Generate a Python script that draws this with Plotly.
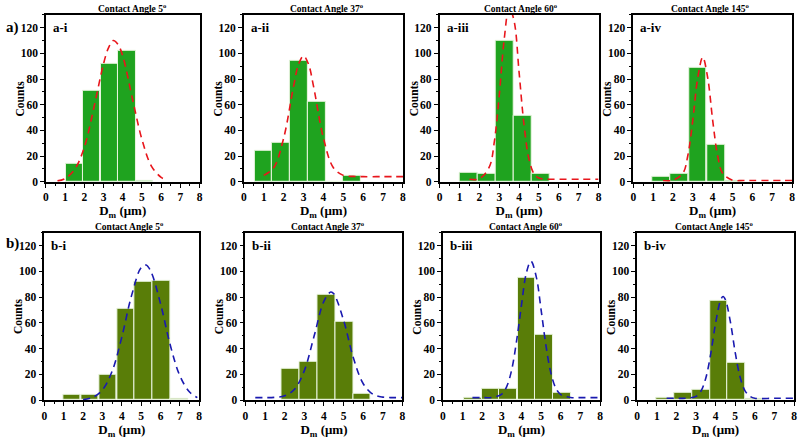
import plotly.graph_objects as go

# ---------------- data ----------------
titles = ["Contact Angle 5<sup>o</sup>", "Contact Angle 37<sup>o</sup>",
          "Contact Angle 60<sup>o</sup>", "Contact Angle 145<sup>o</sup>"]
labels_a = ["a-i", "a-ii", "a-iii", "a-iv"]
labels_b = ["b-i", "b-ii", "b-iii", "b-iv"]
x_ticks = [0, 1, 2, 3, 4, 5, 6, 7, 8]
y_ticks = [0, 20, 40, 60, 80, 100, 120]

# row a (red fits)
a1_bins = [1.47, 2.38, 3.30, 4.22, 5.13]
a1_counts = [14, 71, 92, 102, 1]
a1_fit_x = [0.6, 1.0, 1.5, 2.0, 2.5, 3.0, 3.25, 3.5, 3.75, 4.0, 4.5, 5.0, 5.5, 6.0, 6.2]
a1_fit_y = [0.7, 2.6, 9.7, 27, 58, 92, 104, 110, 107, 98, 65, 33, 12, 3.4, 1.9]

a2_bins = [0.98, 1.86, 2.75, 3.66, 4.55, 5.44]
a2_counts = [24, 30, 94, 62, 0, 5]
a2_fit_x = [1.0, 1.5, 2.0, 2.5, 2.75, 3.0, 3.25, 3.5, 4.0, 4.5, 5.0, 5.5, 6.0, 7.0, 8.0]
a2_fit_y = [5, 11, 34, 74.5, 91.5, 98, 91.5, 74.5, 34, 11, 5, 4.2, 4, 4, 4]

a3_bins = [1.48, 2.38, 3.28, 4.18, 5.08]
a3_counts = [7, 6, 110, 51, 6]
a3_fit_x = [1.5, 2.0, 2.5, 2.75, 3.0, 3.25, 3.5, 3.75, 4.0, 4.25, 4.5, 4.75, 5.0, 5.5, 6.0, 7.0, 8.0]
a3_fit_y = [2, 2.4, 11.6, 31, 67.5, 111, 136, 125, 85, 44, 17.5, 6.3, 2.9, 2, 2, 2, 2]

a4_bins = [1.42, 2.33, 3.25, 4.17, 5.08]
a4_counts = [4, 6, 89, 29, 1]
a4_fit_x = [1.5, 2.0, 2.5, 2.75, 3.0, 3.25, 3.5, 3.75, 4.0, 4.25, 4.5, 5.0, 5.5, 6.0, 7.0, 8.0]
a4_fit_y = [1, 1.2, 6.7, 20.5, 48, 81, 97, 81, 48, 20.5, 6.7, 1.2, 1, 1, 1, 1]

# row b (blue fits)
b1_bins = [1.42, 2.34, 3.28, 4.20, 5.12, 6.05, 6.97]
b1_counts = [4, 4, 20, 71, 92, 93, 1]
b1_fit_x = [2.0, 2.5, 3.0, 3.5, 4.0, 4.5, 5.0, 5.25, 5.5, 6.0, 6.5, 7.0, 7.5, 7.9]
b1_fit_y = [0.45, 2.2, 8, 22.5, 49, 81, 103, 105, 100, 75, 43, 19, 6.3, 2]

b2_bins = [2.28, 3.20, 4.12, 5.03, 5.93]
b2_counts = [24, 30, 82, 61, 5]
b2_fit_x = [0.5, 1.0, 1.5, 2.0, 2.5, 3.0, 3.5, 4.0, 4.35, 4.5, 5.0, 5.5, 6.0, 6.5, 7.0, 7.5, 8.0]
b2_fit_y = [2, 2, 2.2, 3.4, 8.5, 23, 50, 77, 84, 82.6, 62, 32.7, 12.8, 4.6, 2.4, 2, 2]

b3_bins = [1.52, 2.43, 3.32, 4.25, 5.16, 6.07]
b3_counts = [2, 9, 9, 95, 51, 6]
b3_fit_x = [1.5, 2.0, 2.5, 3.0, 3.25, 3.5, 3.75, 4.0, 4.25, 4.48, 4.75, 5.0, 5.25, 5.5, 5.75, 6.0, 6.5, 7.0, 8.0]
b3_fit_y = [2, 2, 2.2, 4.8, 10.7, 23.6, 46, 74, 99, 108, 96, 70, 42, 21, 9.3, 4.3, 2.1, 2, 2]

b4_bins = [1.44, 2.34, 3.25, 4.15, 5.06, 5.96]
b4_counts = [2, 6, 8, 77, 29, 1]
b4_fit_x = [1.5, 2.0, 2.5, 3.0, 3.25, 3.5, 3.75, 4.0, 4.25, 4.38, 4.5, 4.75, 5.0, 5.25, 5.5, 5.75, 6.0, 7.0, 8.0]
b4_fit_y = [1.5, 1.5, 1.5, 3, 7, 17.3, 36, 60, 77.5, 80.5, 78, 61, 37, 17.8, 7.3, 3.1, 1.5, 1.5, 1.5]

# ---------------- styling / layout ----------------
W, H = 803, 442
FONT = "Liberation Serif, Times New Roman, DejaVu Serif, serif"
GREEN = "#1fa31f"
OLIVE = "#597d08"
RED = "#e8161c"
BLUE = "#1a1ab0"

panels = [
    (a1_bins, a1_counts, a1_fit_x, a1_fit_y, GREEN, RED),
    (a2_bins, a2_counts, a2_fit_x, a2_fit_y, GREEN, RED),
    (a3_bins, a3_counts, a3_fit_x, a3_fit_y, GREEN, RED),
    (a4_bins, a4_counts, a4_fit_x, a4_fit_y, GREEN, RED),
    (b1_bins, b1_counts, b1_fit_x, b1_fit_y, OLIVE, BLUE),
    (b2_bins, b2_counts, b2_fit_x, b2_fit_y, OLIVE, BLUE),
    (b3_bins, b3_counts, b3_fit_x, b3_fit_y, OLIVE, BLUE),
    (b4_bins, b4_counts, b4_fit_x, b4_fit_y, OLIVE, BLUE),
]

xdom_px = [(43.3, 198), (242.7, 403), (440, 600), (635, 795),
           (41.7, 197.7), (244.3, 402.5), (443.3, 601.5), (639, 797)]
ydom_px = [(15, 184.3)] * 4 + [(236, 405.7)] * 4
title_x_px = [130, 326, 522, 712, 127, 327, 527, 716.5]
title_y_px = [8] * 4 + [229] * 4

fig = go.Figure()
layout_axes = {}
annotations = []

def tfont(size):
    return dict(family=FONT, size=size, color="black", weight="bold")

for i, (bx, by, fx, fy, bcol, lcol) in enumerate(panels):
    n = i + 1
    xa = "x" if n == 1 else f"x{n}"
    ya = "y" if n == 1 else f"y{n}"
    fig.add_trace(go.Bar(x=bx, y=by, width=0.9, marker=dict(color=bcol, line=dict(color="#eaf5e0", width=1)),
                         xaxis=xa, yaxis=ya, showlegend=False))
    fig.add_trace(go.Scatter(x=fx, y=fy, mode="lines",
                             line=dict(color=lcol, width=1.6, dash="7px,5px", shape="spline", smoothing=1.0),
                             xaxis=xa, yaxis=ya, showlegend=False))
    x0, x1 = xdom_px[i]
    y0, y1 = ydom_px[i]
    axis_common = dict(showline=True, linecolor="black", linewidth=1.6, mirror=True,
                       ticks="outside", ticklen=4, tickwidth=1.2, tickcolor="black",
                       showgrid=False, zeroline=False, tickfont=tfont(11.5),
                       ticklabeloverflow="allow")
    layout_axes["xaxis" if n == 1 else f"xaxis{n}"] = dict(
        domain=[x0 / W, x1 / W], anchor=ya, range=[0, 8], tickvals=x_ticks,
        minor=dict(dtick=0.5, ticklen=2, ticks="outside", tickcolor="black"),
        title=dict(text="D<sub>m</sub> (μm)", font=tfont(13), standoff=0),
        **axis_common)
    layout_axes["yaxis" if n == 1 else f"yaxis{n}"] = dict(
        domain=[1 - y1 / H, 1 - y0 / H], anchor=xa, range=[0, 130], tickvals=y_ticks,
        minor=dict(dtick=10, ticklen=2, ticks="outside", tickcolor="black"),
        **axis_common)
    # y-axis title placed precisely
    annotations.append(dict(text="Counts", x=(x0 - 26) / W, y=1 - ((y0 + y1) / 2) / H,
                            xref="paper", yref="paper", showarrow=False, textangle=-90,
                            xanchor="center", yanchor="middle", font=tfont(11.5)))
    annotations.append(dict(text=titles[i % 4], x=title_x_px[i] / W, y=1 - title_y_px[i] / H,
                            xref="paper", yref="paper", showarrow=False, xanchor="center", yanchor="middle",
                            font=tfont(9.5)))
    lab = (labels_a + labels_b)[i]
    annotations.append(dict(text=lab, x=(x0 + 5) / W, y=1 - (y0 + 12.5) / H,
                            xref="paper", yref="paper", showarrow=False, xanchor="left", yanchor="middle",
                            font=tfont(13)))

annotations.append(dict(text="a)", x=1 / W, y=1 - 28 / H, xref="paper", yref="paper", showarrow=False,
                        xanchor="left", yanchor="middle", font=tfont(15)))
annotations.append(dict(text="b)", x=1 / W, y=1 - 247 / H, xref="paper", yref="paper", showarrow=False,
                        xanchor="left", yanchor="middle", font=tfont(15)))

fig.update_layout(width=W, height=H, margin=dict(l=0, r=0, t=0, b=0),
                  paper_bgcolor="white", plot_bgcolor="white", bargap=0,
                  font=dict(family=FONT), hovermode=False,
                  annotations=annotations, **layout_axes)

fig.write_html("out.html", config={"displayModeBar": False})

# remove the browser's default body margin so the figure sits at the page origin
with open("out.html", "r", encoding="utf-8") as f:
    html = f.read()
html = html.replace("<body>", '<body style="margin:0;padding:0;overflow:hidden">', 1)
with open("out.html", "w", encoding="utf-8") as f:
    f.write(html)
